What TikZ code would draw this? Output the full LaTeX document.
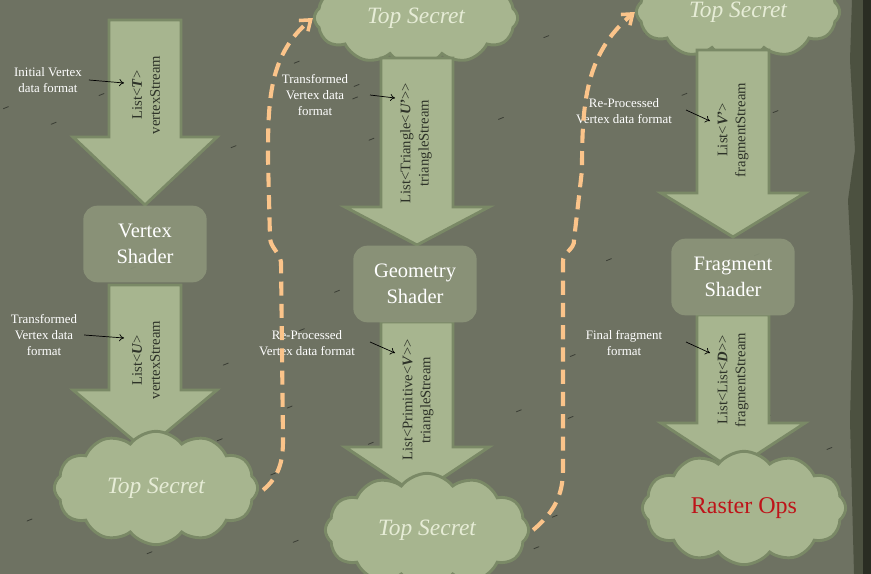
\documentclass[tikz,border=0pt]{standalone}
\usepackage{fontspec}
\setmainfont{Liberation Serif}
\usetikzlibrary{shapes.symbols,arrows.meta}
\definecolor{slate}{RGB}{110,114,98}
\definecolor{slateedge}{RGB}{76,81,64}
\definecolor{sage}{RGB}{167,181,143}
\definecolor{sageline}{RGB}{122,137,102}
\definecolor{boxfill}{RGB}{140,149,122}
\definecolor{peach}{RGB}{251,196,138}
\definecolor{inkdark}{RGB}{45,50,40}
\definecolor{mist}{RGB}{230,236,214}
\definecolor{rasterred}{RGB}{190,20,25}
\tikzset{
  shaderbox/.style={rectangle, rounded corners=12pt, fill=boxfill, fill opacity=0.9,
    text opacity=1, text=white, minimum width=37mm, minimum height=23mm, align=center,
    font=\fontsize{17.5}{22}\selectfont},
  puff/.style={cloud, cloud puffs=12, cloud puff arc=105, aspect=1.8, draw=sageline,
    line width=2.5pt, fill=sage, minimum width=61mm, minimum height=34mm, inner sep=0pt,
    text=mist, font=\fontsize{20}{24}\selectfont\itshape},
  note/.style={text=white, align=center, font=\fontsize{11}{13.7}\selectfont},
  streamlabel/.style={rotate=90, text=inkdark, align=center, font=\fontsize{12.5}{15.4}\selectfont},
  pointer/.style={-{To[length=4pt,width=6pt]}, black, line width=0.6pt},
  handoff/.style={peach, line width=3.5pt, dash pattern=on 12pt off 7pt,
    -{Straight Barb[length=8pt,width=12pt,line width=3pt]}}
}
% big block arrow: centre x, shaft top y, head start y, tip y
\newcommand{\flowarrow}[4]{%
  \draw[sageline, line width=2.5pt, fill=sage, line join=miter]
    (#1-36,#2) -- (#1+36,#2) -- (#1+36,#3) -- (#1+72,#3) -- (#1,#4)
    -- (#1-72,#3) -- (#1-36,#3) -- cycle;}
\newcommand{\bm}[1]{\textbf{\textit{#1}}}
\newcommand{\lt}{\textless\kern0pt}
\newcommand{\gt}{\kern0pt\textgreater\kern0pt}
\begin{document}
\begin{tikzpicture}[x=0.3mm,y=-0.3mm]
  \useasboundingbox (0,0) rectangle (871,574);
  \fill[slate] (0,0) rectangle (871,574);
  \fill[slateedge] (852,0) -- (850,60) -- (855,150) -- (848,200) -- (853,300)
    -- (850,420) -- (854,574) -- (871,574) -- (871,0) -- cycle;
  \fill[black!45!slateedge] (863,0) rectangle (871,574);
  % scratches
  \pgfmathsetseed{7}
  \foreach \i in {1,...,40}{
    \pgfmathsetmacro{\sx}{rnd*840}
    \pgfmathsetmacro{\sy}{rnd*570}
    \draw[slate!55!black, line width=0.7pt, line cap=round] (\sx,\sy) -- ++(5,-2);
  }

  % column 1
  \flowarrow{145}{20}{137}{205}
  \flowarrow{145}{285}{390}{450}
  \node[shaderbox] (vertex) at (145,244) {Vertex\\Shader};
  \node[puff] (secret1) at (156,488) {Top Secret};
  \node[streamlabel] (vin) at (146,95) {List\lt\bm{T}\gt\\vertexStream};
  \node[streamlabel] (vout) at (146,360) {List\lt\bm{U}\gt\\vertexStream};
  \node[note] (initial) at (48,80) {Initial Vertex\\data format};
  \node[note] (transformed1) at (44,335) {Transformed\\Vertex data\\format};
  \coordinate (p1) at (124,83);
  \coordinate (p2) at (124,338);
  \draw[pointer] (initial.east) ++(3,0) -- (p1);
  \draw[pointer] (transformed1.east) ++(3,0) -- (p2);

  % column 2
  \node[puff, minimum height=29mm] (secret2) at (416,18) {Top Secret};
  \flowarrow{417}{58}{207}{245}
  \flowarrow{417}{322}{447}{495}
  \node[shaderbox] (geometry) at (415,284) {Geometry\\Shader};
  \node[puff] (secret3) at (427,530) {Top Secret};
  \node[streamlabel] (gin) at (416,143) {List\lt Triangle\lt\bm{U'}\gt\gt\\triangleStream};
  \node[streamlabel] (gout) at (418,400) {List\lt Primitive\lt\bm{V}\gt\gt\\triangleStream};
  \node[note] (transformed2) at (315,95) {Transformed\\Vertex data\\format};
  \node[note] (reproc1) at (307,343) {Re-Processed\\Vertex data format};
  \coordinate (p3) at (395,98);
  \coordinate (p4) at (395,353);
  \draw[pointer] (370,95) -- (p3);
  \draw[pointer] (370,342) -- (p4);

  % column 3
  \node[puff, minimum height=29mm] (secret4) at (738,12) {Top Secret};
  \flowarrow{733}{50}{193}{237}
  \flowarrow{733}{315}{423}{470}
  \node[shaderbox] (fragment) at (733,277) {Fragment\\Shader};
  \node[puff, text=rasterred, font=\fontsize{20.5}{24}\selectfont] (raster) at (744,508) {Raster Ops};
  \node[streamlabel] (fin) at (733,130) {List\lt\bm{V'}\gt\\fragmentStream};
  \node[streamlabel] (fout) at (733,380) {List\lt List\lt\bm{D}\gt\gt\\fragmentStream};
  \node[note] (reproc2) at (624,111) {Re-Processed\\Vertex data format};
  \node[note] (final) at (624,343) {Final fragment\\format};
  \coordinate (p5) at (710,121);
  \coordinate (p6) at (710,353);
  \draw[pointer] (686,110) -- (p5);
  \draw[pointer] (686,342) -- (p6);

  % hand-offs between stages
  \draw[handoff] (secret1.east) ++(4,2) to[out=40,in=-90] (283,440) -- (281,262)
    to[out=100,in=-85] (270,238) -- (268,160) to[out=90,in=-140] (secret2.west);
  \draw[handoff] (secret3.east) ++(3,0) to[out=40,in=-90] (563,470) -- (563,262)
    to[out=95,in=-85] (574,240) -- (582,170) to[out=90,in=-140] (secret4.west);
\end{tikzpicture}
\end{document}
